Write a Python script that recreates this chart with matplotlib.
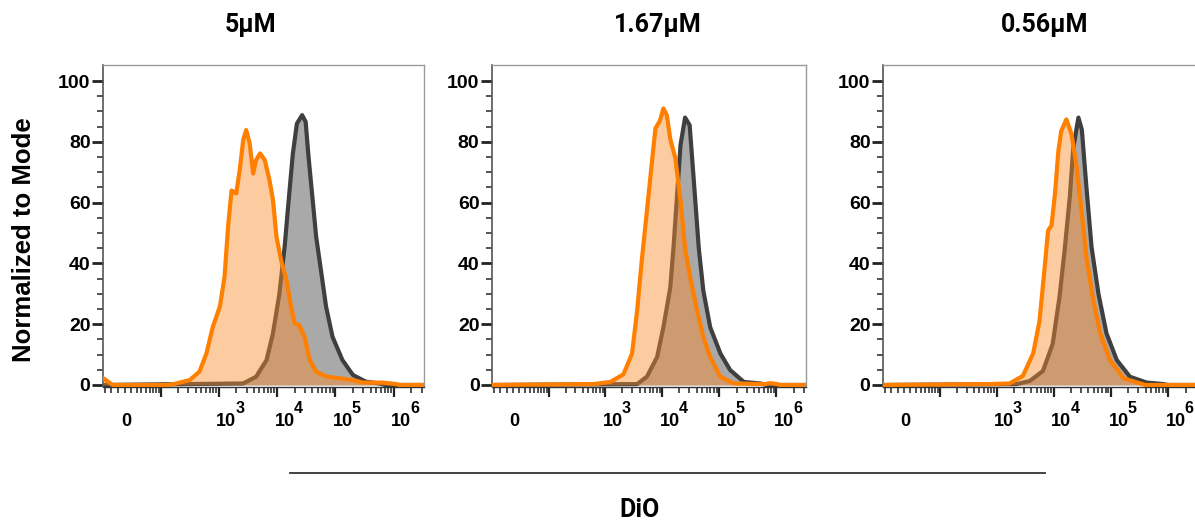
import numpy as np
import matplotlib
matplotlib.use('Agg')
import matplotlib.pyplot as plt

plt.rcParams['font.family'] = ['Liberation Sans', 'DejaVu Sans']
plt.rcParams['font.weight'] = 'bold'

titles = ['5µM', '1.67µM', '0.56µM']

# x values are log10 of DiO intensity, y is % of mode
p1_gray_x = [3.42, 3.64, 3.82, 3.93, 4.04, 4.13, 4.20, 4.27, 4.34, 4.43, 4.49, 4.54, 4.61,
             4.67, 4.76, 4.84, 4.95, 5.12, 5.30, 5.52, 5.75, 5.85]
p1_gray_y = [0.5, 2.7, 8.2, 17, 30, 45.5, 61, 76, 86, 88.8, 86.6, 75, 61,
             48.8, 36.7, 25.8, 15.9, 8.2, 3.3, 1.1, 0.5, 0]
p1_orange_x = [2.10, 2.22, 2.50, 2.67, 2.79, 2.90, 3.02, 3.10, 3.16, 3.22, 3.30, 3.36, 3.42,
               3.47, 3.53, 3.59, 3.64, 3.71, 3.79, 3.87, 3.93, 3.99, 4.07, 4.16, 4.24, 4.30,
               4.38, 4.47, 4.56, 4.67, 4.84, 5.07, 5.30, 5.47, 5.80, 6.04, 6.10]
p1_orange_y = [0, 0.3, 1.6, 4.4, 10.4, 19.2, 25.8, 35.6, 52, 64, 63, 70.7, 80.6,
               83.9, 79.6, 69.6, 74, 76.2, 74, 67.4, 60.9, 48.8, 41, 34.5, 25.8, 20.3,
               19.7, 15.9, 8.2, 4.4, 2.8, 2.2, 1.6, 0.8, 0.8, 0.3, 0]

p2_gray_x = [3.56, 3.73, 3.91, 4.02, 4.14, 4.20, 4.26, 4.32, 4.40, 4.48, 4.55, 4.64, 4.72,
             4.84, 5.02, 5.19, 5.43, 5.72, 5.82]
p2_gray_y = [0.3, 2.7, 9.2, 19, 32, 46, 62.6, 79, 88, 85.5, 68, 45, 31,
             19, 10.3, 4.9, 1, 0.5, 0]
p2_orange_x = [2.80, 3.09, 3.32, 3.47, 3.56, 3.64, 3.73, 3.82, 3.88, 3.96, 4.02, 4.08, 4.14,
               4.23, 4.32, 4.40, 4.49, 4.61, 4.72, 4.84, 5.02, 5.25, 5.80, 5.89, 6.01, 6.06]
p2_orange_y = [0.3, 1, 3.5, 10.3, 24.5, 40.8, 57, 73.5, 84.4, 87, 91, 88.8, 81,
               74.6, 60.5, 45, 35.4, 24.5, 15.8, 9.2, 2.7, 0.5, 0.3, 0.6, 0.3, 0]

p3_gray_x = [3.35, 3.58, 3.81, 3.98, 4.10, 4.19, 4.28, 4.34, 4.43, 4.49, 4.57, 4.66, 4.78,
             4.92, 5.10, 5.33, 5.62, 5.91, 6.00]
p3_gray_y = [0.3, 1.3, 4.6, 13.5, 29, 44.5, 62, 78, 88, 84, 65, 45.3, 30,
             17, 8.2, 2.7, 0.8, 0.3, 0]
p3_orange_x = [2.88, 3.23, 3.46, 3.64, 3.75, 3.84, 3.90, 3.96, 4.02, 4.08, 4.13, 4.22, 4.31,
               4.40, 4.49, 4.57, 4.69, 4.81, 4.98, 5.22, 5.51, 5.60]
p3_orange_y = [0.3, 0.5, 3, 10.4, 21, 38.6, 50.8, 52.5, 62.8, 77, 83.6, 87.4, 82.5,
               71.6, 56.3, 42, 27.9, 17, 8.2, 2.2, 0.5, 0]

# small bump of events piled at the left edge of the first panel
p1_edge_x = [-23, -8]
p1_edge_y = [2.2, 0]

panels = [
    (p1_gray_x, p1_gray_y, p1_orange_x, p1_orange_y),
    (p2_gray_x, p2_gray_y, p2_orange_x, p2_orange_y),
    (p3_gray_x, p3_gray_y, p3_orange_x, p3_orange_y),
]

# FlowJo-like biexponential display (asinh)
A = 1.274
C = 37.6
LN10 = np.log(10)


def fwd(v):
    return A + np.arcsinh(np.asarray(v) / C) / LN10


def inv(t):
    return C * np.sinh((np.asarray(t) - A) * LN10)


XMIN, XMAX = -23.6, 3.3e6

major_x = [1e2, 1e3, 1e4, 1e5, 1e6]
minor_x = [-20, -10, 0] + [k * 10 for k in range(1, 10)]
for d in [2, 3, 4, 5]:
    minor_x += [k * 10 ** d for k in range(2, 10)]
minor_x += [2e6, 3e6]

decades = [3, 4, 5, 6]

W, H = 1195, 521
PT = 0.72  # points per pixel at 100 dpi
fig = plt.figure(figsize=(W / 100, H / 100), dpi=100)
boxes = [(103, 321), (492, 314), (883, 315)]
title_cx = [251, 658, 1045]
top_px, bot_px = 65, 386.5

gray_fill = '#a9a9a9'
gray_line = '#3f3f3f'
orange_line = '#ff7f00'
orange_fill = '#f98c2a'
title_font = ['Roboto', 'DejaVu Sans']

for i, (gx, gy, ox, oy) in enumerate(panels):
    left, width = boxes[i]
    ax = fig.add_axes([left / W, (H - bot_px) / H, width / W, (bot_px - top_px) / H])
    ax.set_xscale('function', functions=(fwd, inv))

    gxx = np.r_[XMIN, 10 ** np.array(gx), XMAX]
    gyy = np.r_[0, gy, 0]
    if i == 0:
        oxx = np.r_[XMIN, p1_edge_x, 10 ** np.array(ox), XMAX]
        oyy = np.r_[p1_edge_y[0], p1_edge_y, oy, 0]
    else:
        oxx = np.r_[XMIN, 10 ** np.array(ox), XMAX]
        oyy = np.r_[0, oy, 0]

    ax.fill_between(gxx, gyy, 0, color=gray_fill, lw=0, zorder=1)
    ax.plot(gxx, gyy, color=gray_line, lw=3.0, zorder=2, solid_joinstyle='round')
    ax.fill_between(oxx, oyy, 0, color=orange_fill, alpha=0.45, lw=0, zorder=3)
    ax.plot(oxx, oyy, color=orange_line, lw=3.0, zorder=4, solid_joinstyle='round')

    ax.set_xlim(XMIN, XMAX)
    ax.set_ylim(-0.5, 105.3)

    ax.set_yticks([0, 20, 40, 60, 80, 100])
    ax.set_yticks(np.arange(0, 105, 5), minor=True)
    ax.set_yticklabels(['0', '20', '40', '60', '80', '100'])
    ax.tick_params(axis='y', which='major', direction='out', length=8, width=2,
                   color='#222222', labelsize=14, pad=1)
    ax.tick_params(axis='y', which='minor', direction='out', length=4, width=1.3,
                   color='#444444')

    ax.set_xticks(major_x)
    ax.set_xticklabels([])
    ax.set_xticks(minor_x, minor=True)
    ax.tick_params(axis='x', which='major', direction='out', length=7, width=1.6,
                   color='#222222')
    ax.tick_params(axis='x', which='minor', direction='out', length=4, width=1.2,
                   color='#333333')

    base_dy = -(426 - bot_px) * PT
    sup_dy = -(413 - bot_px) * PT
    ax.annotate('0', xy=(0, 0), xycoords=('data', 'axes fraction'),
                xytext=(8 * PT, base_dy), textcoords='offset points', ha='center',
                va='baseline', fontsize=13, fontweight='bold')
    for d in decades:
        ax.annotate('10', xy=(10.0 ** d, 0), xycoords=('data', 'axes fraction'),
                    xytext=(7.5 * PT, base_dy), textcoords='offset points', ha='center',
                    va='baseline', fontsize=13, fontweight='bold')
        ax.annotate(str(d), xy=(10.0 ** d, 0), xycoords=('data', 'axes fraction'),
                    xytext=(21 * PT, sup_dy), textcoords='offset points', ha='center',
                    va='baseline', fontsize=11.5, fontweight='bold')

    for s in ['top', 'right']:
        ax.spines[s].set_color('#9a9a9a')
        ax.spines[s].set_linewidth(1.0)
    ax.spines['left'].set_color('#555555')
    ax.spines['left'].set_linewidth(1.2)
    ax.spines['bottom'].set_color('#333333')
    ax.spines['bottom'].set_linewidth(1.0)

    fig.text(title_cx[i] / W, (H - 32) / H, titles[i], ha='center', va='baseline',
             fontsize=18, fontweight='bold', family=title_font)

fig.text(24 / W, (H - 240) / H, 'Normalized to Mode', rotation=90, ha='center',
         va='center', fontsize=18.5, fontweight='bold')
fig.text(640 / W, (H - 517) / H, 'DiO', ha='center', va='baseline', fontsize=18,
         fontweight='bold', family=title_font)
fig.add_artist(plt.Line2D([290 / W, 1045 / W], [(H - 473) / H] * 2, color='#333333',
                          lw=1.3))

fig.savefig('out.png', dpi=100)
